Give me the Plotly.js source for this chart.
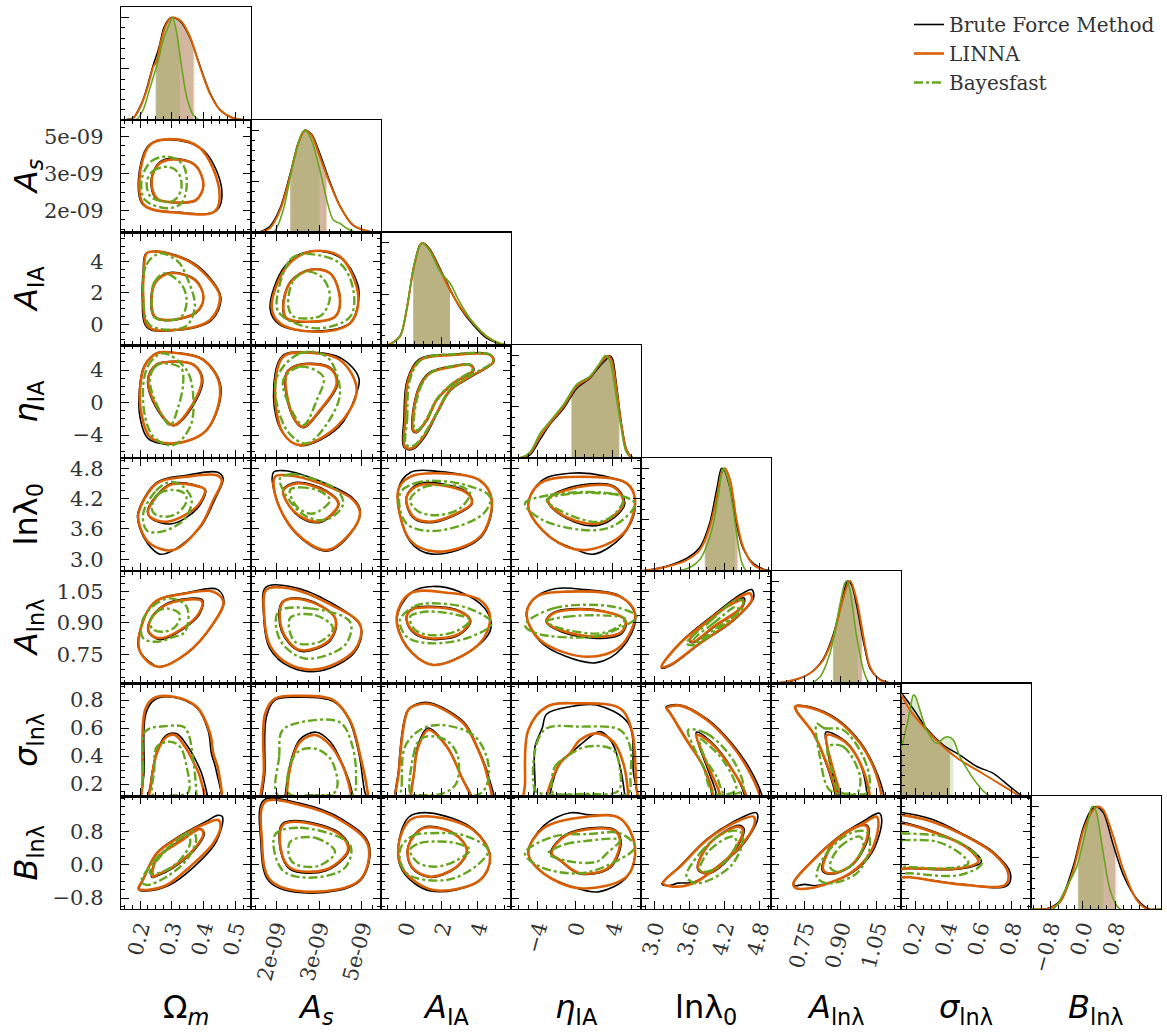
<!DOCTYPE html>
<html><head><meta charset="utf-8">
<script src="https://cdn.plot.ly/plotly-3.0.1.min.js"></script>
<style>html,body{margin:0;padding:0;background:#fff;}#chart{width:1167px;height:1032px;}</style>
</head><body><div id="chart"></div>
<script>
// ---------------- parameters / axes ----------------
const PARAM_TITLES = ['Ω<sub><i>m</i></sub>','<i>A</i><sub><i>s</i></sub>','<i>A</i><sub>IA</sub>','<i>η</i><sub>IA</sub>','lnλ<sub>0</sub>','<i>A</i><sub>lnλ</sub>','<i>σ</i><sub>lnλ</sub>','<i>B</i><sub>lnλ</sub>'];
// A_s values are in units of 1e-9
const RANGES = [[0.14,0.55],[1.108,5.677],[-1.35,5.85],[-6.83,7.03],[2.77,5.0],[0.61,1.15],[0.113,0.918],[-1.06,1.65]];
// horizontal ranges of the columns (the last column only holds the B marginal and has its own extent)
const X_RANGES = [[0.14,0.55],[1.108,5.677],[-1.35,5.85],[-6.83,7.03],[2.77,5.0],[0.61,1.15],[0.113,0.918],[-1.27,1.93]];
const TICK_VALS = [[0.2,0.3,0.4,0.5],[2,3.5,5],[0,2,4],[-4,0,4],[3.0,3.6,4.2,4.8],[0.75,0.90,1.05],[0.2,0.4,0.6,0.8],[-0.8,0.0,0.8]];
const TICK_TEXT = [['0.2','0.3','0.4','0.5'],['2e-09','3e-09','5e-09'],['0','2','4'],['\u22124','0','4'],['3.0','3.6','4.2','4.8'],['0.75','0.90','1.05'],['0.2','0.4','0.6','0.8'],['\u22120.8','0.0','0.8']];
const MINOR_STEP = [0.025,0.375,0.5,1,0.15,0.0375,0.05,0.2];
const METHODS = ['Brute Force Method','LINNA','Bayesfast'];
const KEYS = ['bf','li','bay'];

// ---------------- 2D contours (outer = 95%, inner = 68%) ----------------
const P10 = {
 bf:{outer:[[0.195,3.25],[0.228,4.66],[0.295,4.88],[0.40,4.45],[0.458,2.84],[0.44,1.99],[0.326,1.93],[0.21,2.23]],
     inner:[[0.235,3.25],[0.26,3.95],[0.305,4.12],[0.375,3.85],[0.40,3.0],[0.377,2.42],[0.326,2.32],[0.25,2.5]]},
 li:{outer:[[0.198,3.25],[0.231,4.66],[0.295,4.90],[0.389,4.54],[0.45,2.84],[0.436,1.98],[0.326,1.91],[0.213,2.23]],
     inner:[[0.237,3.25],[0.26,3.9],[0.305,4.08],[0.373,3.85],[0.40,3.04],[0.377,2.44],[0.326,2.33],[0.253,2.50]]},
 bay:{outer:[[0.205,3.25],[0.235,4.0],[0.289,4.19],[0.336,3.85],[0.347,2.97],[0.33,2.3],[0.29,2.10],[0.216,2.43]],
     inner:[[0.221,3.12],[0.24,3.6],[0.289,3.78],[0.32,3.55],[0.331,2.97],[0.315,2.5],[0.295,2.36],[0.235,2.55]]}
};
const P20 = {
 bf:{outer:[[0.207,1.76],[0.21,3.3],[0.218,4.5],[0.253,4.66],[0.35,4.12],[0.415,3.1],[0.455,1.7],[0.425,0.25],[0.305,-0.4],[0.222,-0.2]],
     inner:[[0.235,1.76],[0.25,2.75],[0.295,3.3],[0.375,2.85],[0.40,1.7],[0.38,0.78],[0.295,0.25],[0.245,0.46]]},
 li:{outer:[[0.210,1.76],[0.212,3.3],[0.221,4.53],[0.253,4.64],[0.347,4.10],[0.41,3.1],[0.452,1.76],[0.421,0.27],[0.305,-0.37],[0.226,-0.16]],
     inner:[[0.237,1.76],[0.25,2.7],[0.295,3.26],[0.373,2.83],[0.40,1.76],[0.379,0.80],[0.295,0.27],[0.247,0.48]]},
 bay:{outer:[[0.21,1.76],[0.22,3.8],[0.263,4.53],[0.32,4.0],[0.342,3.26],[0.373,1.12],[0.342,-0.16],[0.231,-0.05]],
     inner:[[0.237,1.76],[0.245,2.7],[0.279,3.26],[0.332,2.51],[0.347,1.55],[0.335,0.6],[0.305,0.27],[0.245,0.45]]}
};
const P30 = {
 bf:{outer:[[0.198,1.54],[0.213,4.5],[0.253,6.1],[0.305,6.15],[0.40,5.3],[0.455,1.9],[0.41,-3.4],[0.305,-5.1],[0.225,-4.4],[0.2,-1.8]],
     inner:[[0.224,2.77],[0.25,4.65],[0.295,5.05],[0.37,4.65],[0.398,2.7],[0.35,-1.4],[0.305,-2.85],[0.25,-0.6]]},
 li:{outer:[[0.20,1.54],[0.215,4.5],[0.253,6.06],[0.305,6.13],[0.40,5.23],[0.452,1.95],[0.41,-3.38],[0.305,-5.02],[0.231,-4.21],[0.205,-1.5]],
     inner:[[0.226,2.77],[0.25,4.6],[0.295,5.02],[0.37,4.6],[0.395,2.77],[0.347,-1.33],[0.305,-2.77],[0.253,-0.52]]},
 bay:{outer:[[0.21,-0.10],[0.225,4.5],[0.273,6.06],[0.347,4.0],[0.368,0.72],[0.358,-2.98],[0.305,-5.23],[0.242,-4.21]],
     inner:[[0.231,2.77],[0.245,4.3],[0.273,4.83],[0.33,4.2],[0.336,2.37],[0.32,-0.6],[0.295,-2.77],[0.25,0.0]]}
};
const P40 = {
 bf:{outer:[[0.193,3.9],[0.253,4.52],[0.347,4.66],[0.445,4.72],[0.462,4.6],[0.435,4.17],[0.389,3.62],[0.3,3.16],[0.262,3.1],[0.225,3.3],[0.2,3.6]],
     inner:[[0.224,3.97],[0.295,4.49],[0.389,4.44],[0.407,4.36],[0.38,4.0],[0.3,3.70],[0.232,3.82]]},
 li:{outer:[[0.195,3.9],[0.253,4.5],[0.347,4.63],[0.442,4.66],[0.458,4.56],[0.431,4.17],[0.389,3.64],[0.305,3.18],[0.231,3.31],[0.2,3.64]],
     inner:[[0.226,3.97],[0.295,4.47],[0.389,4.43],[0.405,4.37],[0.379,4.04],[0.284,3.74],[0.231,3.84]]},
 bay:{outer:[[0.21,3.9],[0.25,4.35],[0.295,4.53],[0.337,4.43],[0.363,4.17],[0.337,3.77],[0.263,3.54],[0.221,3.57]],
     inner:[[0.237,4.04],[0.26,4.3],[0.305,4.37],[0.34,4.3],[0.347,4.15],[0.32,3.92],[0.284,3.84],[0.245,3.9]]}
};
const P50 = {
 bf:{outer:[[0.193,0.80],[0.242,0.995],[0.347,1.045],[0.445,1.06],[0.465,1.0],[0.431,0.895],[0.347,0.752],[0.258,0.69],[0.225,0.72],[0.205,0.75]],
     inner:[[0.224,0.88],[0.25,0.955],[0.305,1.005],[0.397,1.01],[0.387,0.94],[0.33,0.865],[0.263,0.82],[0.229,0.85]]},
 li:{outer:[[0.195,0.803],[0.242,0.994],[0.347,1.042],[0.431,1.05],[0.463,1.002],[0.431,0.898],[0.347,0.755],[0.258,0.69],[0.21,0.738]],
     inner:[[0.226,0.88],[0.25,0.95],[0.305,1.0],[0.395,1.005],[0.385,0.945],[0.33,0.87],[0.263,0.827],[0.231,0.85]]},
 bay:{outer:[[0.205,0.9],[0.24,0.98],[0.295,1.018],[0.347,0.978],[0.342,0.858],[0.3,0.83],[0.253,0.81],[0.21,0.827]],
     inner:[[0.231,0.906],[0.25,0.95],[0.284,0.97],[0.326,0.94],[0.31,0.88],[0.274,0.858],[0.24,0.87]]}
};
const P60 = {
 bf:{outer:[[0.212,0.0],[0.213,0.3],[0.218,0.70],[0.245,0.80],[0.305,0.82],[0.379,0.745],[0.415,0.58],[0.425,0.42],[0.44,0.3],[0.452,0.0],[0.33,-0.08]],
     inner:[[0.227,0.0],[0.233,0.2],[0.253,0.43],[0.284,0.55],[0.315,0.56],[0.35,0.47],[0.38,0.35],[0.398,0.25],[0.41,0.0],[0.32,-0.06]]},
 li:{outer:[[0.207,0.0],[0.208,0.2],[0.216,0.73],[0.242,0.812],[0.305,0.824],[0.379,0.752],[0.421,0.562],[0.431,0.42],[0.447,0.30],[0.449,0.0],[0.33,-0.08]],
     inner:[[0.229,0.0],[0.235,0.2],[0.253,0.42],[0.284,0.538],[0.31,0.55],[0.342,0.466],[0.37,0.35],[0.389,0.252],[0.402,0.0],[0.32,-0.06]]},
 bay:{outer:[[0.21,0.0],[0.21,0.3],[0.212,0.56],[0.231,0.598],[0.263,0.61],[0.336,0.61],[0.352,0.562],[0.368,0.372],[0.378,0.13],[0.38,0.0],[0.3,-0.06]],
     inner:[[0.242,0.12],[0.245,0.3],[0.253,0.466],[0.295,0.502],[0.326,0.466],[0.347,0.324],[0.352,0.14],[0.3,0.118]]}
};
const P70 = {
 bf:{outer:[[0.197,-0.6],[0.21,-0.35],[0.253,0.29],[0.326,0.7],[0.41,1.05],[0.445,1.19],[0.46,1.15],[0.44,0.55],[0.37,-0.05],[0.29,-0.5],[0.22,-0.63]],
     inner:[[0.237,-0.3],[0.253,0.17],[0.326,0.58],[0.39,0.87],[0.403,0.75],[0.37,0.34],[0.305,-0.07],[0.253,-0.27]]},
 li:{outer:[[0.195,-0.58],[0.21,-0.35],[0.253,0.277],[0.326,0.676],[0.41,1.0],[0.447,1.078],[0.454,0.917],[0.431,0.518],[0.358,-0.045],[0.284,-0.485],[0.221,-0.605]],
     inner:[[0.24,-0.285],[0.253,0.157],[0.326,0.556],[0.389,0.854],[0.4,0.76],[0.368,0.357],[0.305,-0.045],[0.253,-0.245]]},
 bay:{outer:[[0.205,-0.405],[0.242,0.075],[0.305,0.518],[0.347,0.758],[0.368,0.797],[0.377,0.6],[0.347,0.116],[0.284,-0.285],[0.221,-0.485]],
     inner:[[0.231,-0.2],[0.273,0.277],[0.326,0.637],[0.352,0.717],[0.358,0.518],[0.326,0.116],[0.273,-0.165]]}
};
const P21 = {
 bf:{outer:[[1.78,1.0],[2.3,3.7],[3.18,4.66],[4.3,4.2],[4.85,2.6],[4.9,1.7],[4.6,0.1],[3.3,-0.45],[2.1,0.0]],
     inner:[[2.22,1.1],[2.5,2.75],[3.18,3.5],[3.9,3.25],[4.25,1.5],[4.05,0.45],[3.07,0.13],[2.35,0.35]]},
 li:{outer:[[1.836,1.12],[2.363,3.68],[3.182,4.64],[4.236,4.32],[4.88,1.76],[4.59,0.06],[3.298,-0.48],[2.127,0.06]],
     inner:[[2.243,1.12],[2.5,2.7],[3.182,3.47],[3.885,3.26],[4.236,1.55],[4.06,0.48],[3.066,0.16],[2.363,0.38]]},
 bay:{outer:[[2.01,1.12],[2.479,4.11],[2.946,4.49],[4.236,3.89],[4.704,2.19],[4.59,0.48],[3.417,-0.26],[2.243,0.48]],
     inner:[[2.42,1.12],[2.6,2.8],[3.066,3.36],[3.6,3.0],[3.885,1.76],[3.6,0.6],[3.182,0.38],[2.6,0.5]]}
};
const P31 = {
 bf:{outer:[[1.9,0.8],[2.2,5.7],[3.07,6.2],[4.3,5.4],[4.9,3.0],[4.8,1.0],[4.2,-3.0],[2.85,-5.3],[2.2,-3.6]],
     inner:[[2.34,3.6],[2.83,4.7],[3.9,4.3],[4.15,2.3],[3.55,-1.0],[2.95,-3.1],[2.58,-1.8]]},
 li:{outer:[[1.952,1.54],[2.243,5.64],[3.066,6.13],[4.236,5.23],[4.823,1.54],[4.12,-2.98],[2.83,-5.23],[2.243,-3.79]],
     inner:[[2.363,3.6],[2.83,4.62],[3.885,4.21],[4.12,2.37],[3.533,-0.92],[2.946,-2.98],[2.595,-1.75]]},
 bay:{outer:[[1.99,2.77],[2.83,6.06],[3.77,5.64],[4.236,1.54],[4.0,-1.33],[3.066,-5.02],[2.363,-3.38]],
     inner:[[2.243,2.77],[2.83,4.41],[3.65,3.18],[3.42,0.31],[2.946,-2.77],[2.479,-0.52]]}
};
const P41 = {
 bf:{outer:[[1.9,4.72],[2.3,4.75],[3.5,4.55],[4.7,4.2],[4.95,3.95],[4.6,3.5],[3.77,3.16],[2.7,3.5],[2.0,4.2]],
     inner:[[2.23,4.37],[2.7,4.52],[3.77,4.35],[4.2,4.1],[3.8,3.8],[3.4,3.72],[2.83,3.83],[2.4,4.1]]},
 li:{outer:[[1.952,4.63],[2.363,4.66],[3.533,4.5],[4.704,4.17],[4.939,3.9],[4.59,3.51],[3.77,3.18],[2.714,3.51],[2.01,4.17]],
     inner:[[2.243,4.36],[2.714,4.5],[3.77,4.33],[4.177,4.1],[3.8,3.82],[3.417,3.74],[2.83,3.85],[2.4,4.1]]},
 bay:{outer:[[2.127,4.6],[2.5,4.68],[2.83,4.66],[4.12,4.37],[4.35,4.1],[4.0,3.85],[3.533,3.77],[2.9,3.9],[2.3,4.3]],
     inner:[[2.479,4.37],[2.83,4.42],[3.5,4.35],[3.885,4.17],[3.5,3.95],[3.182,3.9],[2.7,4.05]]}
};
const P51 = {
 bf:{outer:[[1.62,1.07],[2.48,1.075],[3.88,1.0],[4.97,0.88],[4.75,0.76],[3.53,0.67],[2.48,0.69],[1.76,0.78],[1.55,0.94]],
     inner:[[2.2,1.0],[3.0,1.015],[4.08,0.92],[3.9,0.815],[2.83,0.765],[2.18,0.86]]},
 li:{outer:[[1.65,1.06],[2.48,1.065],[3.88,0.99],[4.95,0.89],[4.75,0.77],[3.53,0.68],[2.48,0.70],[1.78,0.79],[1.57,0.94]],
     inner:[[2.23,1.0],[3.0,1.01],[4.06,0.924],[3.88,0.82],[2.83,0.77],[2.2,0.866]]},
 bay:{outer:[[2.06,0.953],[3.18,0.97],[4.59,0.905],[4.41,0.794],[3.0,0.73],[2.13,0.818]],
     inner:[[2.48,0.924],[3.36,0.938],[3.99,0.876],[3.53,0.81],[2.65,0.81]]}
};
const P61 = {
 bf:{outer:[[1.6,0.0],[1.6,0.3],[1.65,0.68],[1.95,0.80],[2.83,0.82],[4.0,0.79],[4.55,0.66],[4.9,0.42],[5.1,0.15],[5.3,0.0],[3.5,-0.08]],
     inner:[[2.3,0.0],[2.33,0.15],[2.53,0.38],[2.83,0.52],[3.4,0.57],[3.9,0.5],[4.35,0.33],[4.65,0.15],[4.72,0.0],[3.5,-0.06]]},
 li:{outer:[[1.55,0.0],[1.56,0.3],[1.6,0.7],[1.95,0.81],[2.83,0.83],[4.0,0.8],[4.6,0.65],[4.95,0.4],[5.2,0.15],[5.25,0.0],[3.5,-0.08]],
     inner:[[2.35,0.0],[2.37,0.15],[2.55,0.37],[2.83,0.5],[3.36,0.55],[3.88,0.48],[4.31,0.34],[4.6,0.15],[4.66,0.0],[3.5,-0.06]]},
 bay:{outer:[[2.05,0.12],[2.1,0.4],[2.2,0.58],[2.83,0.64],[4.24,0.64],[4.66,0.48],[4.8,0.25],[4.7,0.13],[3.5,0.12]],
     inner:[[2.45,0.13],[2.5,0.35],[2.83,0.44],[3.4,0.45],[3.9,0.38],[4.15,0.2],[4.0,0.13],[3.2,0.12]]}
};
const P71 = {
 bf:{outer:[[1.55,1.55],[2.83,1.48],[4.3,1.1],[5.25,0.5],[4.95,-0.38],[3.18,-0.68],[1.75,-0.4],[1.45,0.6]],
     inner:[[2.2,0.98],[2.83,1.06],[4.27,0.74],[4.55,0.35],[3.72,-0.15],[2.47,-0.1],[2.14,0.36]]},
 li:{outer:[[1.6,1.51],[2.83,1.44],[4.24,1.08],[5.22,0.48],[4.94,-0.36],[3.18,-0.65],[1.78,-0.36],[1.49,0.6]],
     inner:[[2.23,0.96],[2.83,1.03],[4.24,0.72],[4.52,0.36],[3.71,-0.12],[2.48,-0.07],[2.16,0.36]]},
 bay:{outer:[[1.95,0.72],[2.83,0.89],[4.59,0.48],[4.41,-0.07],[3.18,-0.31],[2.2,-0.12]],
     inner:[[2.48,0.55],[3.36,0.65],[4.06,0.31],[3.46,-0.03],[2.55,0.07]]}
};
const P32 = {
 bf:{outer:[[-0.08,-5.5],[-0.08,-2.0],[0.1,2.77],[0.75,5.3],[2.65,5.95],[4.69,5.9],[4.9,5.0],[3.6,3.1],[2.5,1.5],[1.75,-1.4],[1.05,-4.3],[0.4,-5.75]],
     inner:[[0.4,-3.45],[0.68,1.54],[1.3,3.65],[2.65,4.5],[3.6,4.68],[3.8,4.0],[2.65,2.3],[1.73,0.25],[1.2,-2.2],[0.63,-3.7]]},
 li:{outer:[[-0.02,-5.44],[0.0,-2.0],[0.16,2.77],[0.81,5.23],[2.65,5.85],[4.69,5.85],[4.87,5.02],[3.58,3.18],[2.47,1.54],[1.73,-1.33],[1.0,-4.21],[0.4,-5.6]],
     inner:[[0.44,-3.38],[0.72,1.54],[1.36,3.6],[2.65,4.41],[3.58,4.62],[3.76,4.0],[2.65,2.37],[1.73,0.31],[1.18,-2.15],[0.63,-3.59]]},
 bay:{outer:[[0.05,-5.2],[0.1,-2.0],[0.25,2.77],[0.9,5.3],[2.65,5.95],[4.69,5.9],[4.85,5.1],[3.58,3.3],[2.47,1.6],[1.73,-1.3],[1.0,-4.0],[0.45,-5.3]],
     inner:[[0.5,-3.2],[0.78,1.54],[1.4,3.65],[2.65,4.5],[3.58,4.65],[3.72,4.1],[2.65,2.45],[1.73,0.4],[1.18,-2.0],[0.68,-3.4]]}
};
const P42 = {
 bf:{outer:[[-0.4,4.37],[0.3,4.72],[1.73,4.74],[4.13,4.55],[4.8,4.15],[4.15,3.42],[1.5,3.1],[0.26,3.35]],
     inner:[[0.05,4.23],[0.81,4.5],[3.4,4.33],[3.7,4.1],[2.5,3.83],[1.36,3.72],[0.42,3.82]]},
 li:{outer:[[-0.39,4.37],[0.26,4.63],[1.73,4.7],[4.13,4.56],[4.78,4.17],[4.13,3.44],[1.73,3.15],[0.26,3.38]],
     inner:[[0.07,4.23],[0.81,4.47],[3.4,4.31],[3.67,4.11],[2.5,3.85],[1.36,3.74],[0.44,3.84]]},
 bay:{outer:[[-0.3,4.3],[0.5,4.5],[1.73,4.55],[3.5,4.45],[4.69,4.23],[4.32,3.9],[1.73,3.56],[0.07,3.7]],
     inner:[[0.26,4.17],[1.0,4.42],[1.92,4.47],[3.2,4.42],[3.58,4.3],[3.0,4.0],[1.73,3.87],[0.7,3.95]]}
};
const P52 = {
 bf:{outer:[[-0.45,0.93],[0.4,1.05],[1.5,1.075],[3.0,1.05],[4.4,0.97],[4.75,0.88],[4.13,0.80],[1.55,0.70],[0.07,0.79]],
     inner:[[0.05,0.93],[0.4,0.97],[1.36,0.98],[3.02,0.958],[3.62,0.91],[3.02,0.845],[1.36,0.822],[0.33,0.862]]},
 li:{outer:[[-0.48,0.93],[0.26,1.042],[2.29,1.045],[4.13,1.01],[4.69,0.93],[4.13,0.803],[1.55,0.699],[0.07,0.786]],
     inner:[[0.07,0.93],[0.4,0.965],[1.36,0.975],[3.02,0.954],[3.58,0.914],[3.02,0.85],[1.36,0.827],[0.35,0.866]]},
 bay:{outer:[[-0.3,0.914],[0.5,0.98],[1.36,0.994],[3.5,0.97],[4.78,0.898],[3.5,0.83],[1.36,0.803],[0.07,0.834]],
     inner:[[0.26,0.93],[0.8,0.95],[1.36,0.955],[2.8,0.94],[3.58,0.914],[2.8,0.86],[1.36,0.842],[0.5,0.87]]}
};
const P62 = {
 bf:{outer:[[-0.45,0.0],[-0.38,0.3],[0.1,0.72],[0.6,0.77],[1.36,0.78],[3.25,0.64],[4.0,0.46],[4.6,0.26],[4.85,0.0],[2.0,-0.08]],
     inner:[[0.44,0.0],[0.5,0.3],[0.7,0.48],[1.25,0.6],[2.3,0.47],[3.05,0.27],[3.85,0.0],[2.0,-0.06]]},
 li:{outer:[[-0.4,0.0],[-0.35,0.3],[0.16,0.729],[0.63,0.765],[1.36,0.772],[3.21,0.634],[3.95,0.467],[4.5,0.276],[4.69,0.0],[2.0,-0.08]],
     inner:[[0.44,0.0],[0.5,0.3],[0.72,0.467],[1.27,0.586],[2.29,0.467],[3.02,0.276],[3.76,0.0],[2.0,-0.06]]},
 bay:{outer:[[-0.2,0.12],[-0.2,0.2],[-0.02,0.467],[0.81,0.586],[1.92,0.622],[3.76,0.55],[4.5,0.395],[4.59,0.228],[4.13,0.13],[2.0,0.115],[0.5,0.12]],
     inner:[[0.3,0.13],[0.44,0.4],[0.7,0.5],[1.2,0.54],[2.29,0.51],[2.9,0.4],[2.8,0.2],[2.0,0.13],[0.8,0.12]]}
};
const P72 = {
 bf:{outer:[[-0.4,0.44],[0.2,1.15],[1.3,1.25],[3.76,0.86],[4.7,0.2],[4.15,-0.37],[1.4,-0.63],[-0.15,-0.15]],
     inner:[[0.14,0.44],[0.99,0.9],[2.65,0.77],[3.42,0.35],[2.84,-0.06],[1.36,-0.3],[0.33,-0.06]]},
 li:{outer:[[-0.39,0.436],[0.26,1.078],[1.55,1.157],[3.76,0.837],[4.69,0.196],[4.13,-0.364],[1.55,-0.605],[-0.11,-0.124]],
     inner:[[0.16,0.436],[0.99,0.878],[2.65,0.758],[3.4,0.357],[2.84,-0.044],[1.36,-0.284],[0.35,-0.044]]},
 bay:{outer:[[-0.3,0.357],[0.4,0.7],[1.36,0.76],[3.3,0.7],[4.59,0.357],[4.0,0.0],[2.29,-0.364],[0.07,-0.204]],
     inner:[[0.26,0.357],[0.8,0.52],[1.55,0.56],[2.8,0.52],[3.58,0.357],[2.8,0.1],[1.73,-0.044],[0.7,0.05]]}
};
const P43 = {
 bf:{outer:[[-5.0,4.05],[-3.6,4.55],[-0.5,4.7],[3.0,4.65],[5.8,4.45],[6.4,4.0],[5.0,3.45],[2.0,3.1],[0.0,3.2],[-2.8,3.45]],
     inner:[[-2.9,4.17],[-0.9,4.4],[4.1,4.45],[5.3,4.1],[3.6,3.75],[1.6,3.66],[-1.6,3.88]]},
 li:{outer:[[-4.98,4.04],[-3.74,4.5],[0.88,4.63],[5.51,4.5],[6.39,4.17],[5.15,3.51],[0.88,3.18],[-2.67,3.44]],
     inner:[[-2.85,4.17],[-0.9,4.37],[4.08,4.43],[5.15,4.1],[3.5,3.78],[1.6,3.7],[-1.61,3.9]]},
 bay:{outer:[[-5.34,4.1],[-2.67,4.27],[3.72,4.3],[6.39,4.1],[4.5,3.7],[1.95,3.57],[-3.39,3.77]],
     inner:[[-3.03,4.17],[-0.19,4.3],[3.0,4.3],[5.15,4.23],[4.5,3.95],[2.66,3.74],[-0.9,3.9]]}
};
const P53 = {
 bf:{outer:[[-5.2,0.95],[-4.0,1.03],[-2.0,1.065],[1.0,1.06],[4.8,1.03],[6.45,0.93],[5.0,0.78],[2.3,0.71],[-1.0,0.74],[-3.8,0.815]],
     inner:[[-3.1,0.906],[-2.3,0.95],[1.95,0.965],[5.4,0.91],[5.0,0.85],[2.3,0.826],[-1.6,0.86]]},
 li:{outer:[[-5.16,0.946],[-4.09,1.026],[-0.89,1.05],[4.79,1.026],[6.39,0.946],[4.79,0.786],[1.24,0.738],[-3.74,0.818]],
     inner:[[-3.03,0.906],[-2.32,0.946],[1.95,0.962],[5.33,0.914],[4.97,0.858],[2.3,0.834],[-1.61,0.866]]},
 bay:{outer:[[-5.34,0.89],[-2.32,0.97],[4.08,0.978],[6.57,0.93],[4.5,0.87],[1.95,0.834],[-4.09,0.85]],
     inner:[[-3.03,0.906],[-0.9,0.93],[3.5,0.935],[5.33,0.92],[4.5,0.88],[2.66,0.85],[-1.61,0.875]]}
};
const P63 = {
 bf:{outer:[[-4.3,0.0],[-4.27,0.2],[-4.27,0.467],[-3.5,0.6],[-3.02,0.7],[-0.54,0.752],[2.3,0.764],[5.68,0.633],[6.2,0.3],[6.39,0.0],[0.5,-0.08]],
     inner:[[-2.8,0.0],[-2.7,0.12],[-1.5,0.36],[-0.3,0.43],[0.9,0.5],[2.66,0.574],[3.9,0.5],[4.7,0.35],[5.3,0.12],[5.4,0.0],[1.0,-0.06]]},
 li:{outer:[[-5.4,0.0],[-5.34,0.2],[-4.98,0.586],[-3.02,0.752],[0.53,0.776],[4.79,0.741],[6.04,0.586],[6.5,0.2],[6.57,0.0],[0.5,-0.08]],
     inner:[[-3.1,0.0],[-3.02,0.114],[-1.6,0.348],[-0.54,0.419],[0.53,0.514],[2.3,0.562],[4.08,0.502],[5.15,0.348],[5.68,0.114],[5.7,0.0],[1.0,-0.06]]},
 bay:{outer:[[-4.27,0.157],[-4.09,0.49],[-3.02,0.598],[0.53,0.61],[4.79,0.586],[5.86,0.467],[5.9,0.25],[5.68,0.135],[0.5,0.125],[-3.5,0.13]],
     inner:[[-2.5,0.2],[-2.14,0.324],[-0.9,0.395],[1.24,0.467],[4.08,0.443],[4.79,0.3],[4.6,0.15],[1.0,0.13],[-2.4,0.14]]}
};
const P73 = {
 bf:{outer:[[-5.0,0.28],[-3.3,0.95],[-0.5,1.25],[1.5,1.2],[4.8,1.12],[6.4,0.4],[5.5,-0.3],[2.5,-0.65],[0.0,-0.55],[-3.4,-0.2]],
     inner:[[-2.6,0.28],[-0.9,0.74],[4.1,0.86],[4.9,0.58],[3.8,-0.06],[0.53,-0.22],[-1.6,0.1]]},
 li:{outer:[[-4.98,0.277],[-3.39,0.878],[1.24,1.157],[4.79,1.119],[6.39,0.436],[5.5,-0.285],[0.53,-0.564],[-3.39,-0.203]],
     inner:[[-2.49,0.277],[-0.9,0.717],[4.08,0.837],[4.79,0.597],[3.72,-0.044],[0.53,-0.204],[-1.6,0.116]]},
 bay:{outer:[[-5.34,0.277],[-2.32,0.677],[1.5,0.74],[4.79,0.758],[6.39,0.436],[4.5,0.1],[0.53,-0.204],[-3.74,-0.044]],
     inner:[[-2.85,0.277],[-1.0,0.5],[0.53,0.557],[4.79,0.597],[3.5,0.3],[2.3,0.076],[-1.0,0.1]]}
};
const P54 = {
 bf:{outer:[[3.12,0.685],[3.44,0.805],[4.0,0.935],[4.47,1.035],[4.67,1.06],[4.7,1.02],[4.35,0.91],[3.78,0.8],[3.27,0.695]],
     inner:[[3.6,0.815],[3.9,0.91],[4.35,1.0],[4.54,1.02],[4.52,0.98],[4.01,0.878],[3.66,0.805]]},
 li:{outer:[[3.125,0.69],[3.44,0.803],[4.01,0.93],[4.47,1.026],[4.64,1.042],[4.67,1.01],[4.35,0.914],[3.78,0.803],[3.27,0.699]],
     inner:[[3.61,0.818],[3.9,0.906],[4.35,0.994],[4.52,1.01],[4.5,0.978],[4.01,0.882],[3.67,0.81]]},
 bay:{outer:[[3.55,0.803],[3.95,0.906],[4.35,1.002],[4.5,1.01],[4.52,0.978],[4.07,0.866],[3.67,0.794]],
     inner:[[3.67,0.818],[4.01,0.898],[4.41,0.978],[4.44,0.954],[4.01,0.866],[3.73,0.81]]}
};
const P64 = {
 bf:{outer:[[3.2,0.75],[3.44,0.765],[3.92,0.66],[4.33,0.49],[4.62,0.32],[4.85,0.114],[4.9,0.0],[3.98,0.0],[3.99,0.114],[3.83,0.33],[3.55,0.52],[3.27,0.71]],
     inner:[[3.72,0.57],[3.95,0.51],[4.3,0.33],[4.55,0.114],[4.57,0.0],[4.06,0.0],[4.07,0.114],[3.92,0.3],[3.76,0.48]]},
 li:{outer:[[3.21,0.741],[3.44,0.76],[3.9,0.657],[4.3,0.491],[4.58,0.324],[4.81,0.114],[4.85,0.0],[4.0,0.0],[4.01,0.114],[3.84,0.324],[3.55,0.514],[3.27,0.705]],
     inner:[[3.725,0.55],[3.95,0.5],[4.3,0.324],[4.58,0.114],[4.6,0.0],[4.12,0.0],[4.13,0.114],[3.95,0.3],[3.78,0.467]]},
 bay:{outer:[[3.58,0.586],[3.9,0.56],[4.35,0.37],[4.52,0.16],[4.3,0.125],[4.0,0.14],[3.84,0.324],[3.67,0.467]],
     inner:[[3.78,0.52],[3.95,0.47],[4.21,0.35],[4.4,0.16],[4.2,0.13],[4.07,0.25],[3.85,0.4]]}
};
const P74 = {
 bf:{outer:[[3.13,-0.46],[3.44,-0.03],[3.9,0.62],[4.35,1.03],[4.75,1.25],[4.77,1.1],[4.5,0.45],[4.01,-0.13],[3.67,-0.42],[3.4,-0.44],[3.25,-0.5]],
     inner:[[3.74,-0.1],[3.95,0.53],[4.45,0.95],[4.54,0.86],[4.49,0.6],[4.2,0.03],[3.9,-0.22]]},
 li:{outer:[[3.15,-0.444],[3.44,-0.044],[3.9,0.597],[4.35,0.998],[4.7,1.157],[4.72,1.0],[4.47,0.436],[4.01,-0.124],[3.67,-0.444],[3.32,-0.525]],
     inner:[[3.75,-0.084],[3.95,0.517],[4.44,0.917],[4.52,0.837],[4.47,0.597],[4.18,0.036],[3.9,-0.204]]},
 bay:{outer:[[3.55,-0.284],[3.78,0.277],[4.18,0.758],[4.47,0.797],[4.52,0.597],[4.3,-0.044],[3.73,-0.444]],
     inner:[[3.78,-0.124],[3.95,0.357],[4.35,0.677],[4.41,0.517],[4.18,0.036],[3.9,-0.164]]}
};
const P65 = {
 bf:{outer:[[0.712,0.756],[0.775,0.75],[0.888,0.66],[0.985,0.49],[1.04,0.32],[1.08,0.114],[1.085,0.0],[0.875,0.0],[0.877,0.114],[0.838,0.35],[0.784,0.565],[0.718,0.72]],
     inner:[[0.838,0.57],[0.9,0.53],[0.94,0.47],[0.99,0.3],[1.01,0.114],[1.013,0.0],[0.887,0.0],[0.889,0.114],[0.862,0.3],[0.842,0.47]]},
 li:{outer:[[0.71,0.752],[0.772,0.745],[0.883,0.657],[0.98,0.491],[1.035,0.324],[1.07,0.114],[1.075,0.0],[0.882,0.0],[0.883,0.114],[0.841,0.348],[0.786,0.562],[0.717,0.717]],
     inner:[[0.841,0.55],[0.9,0.52],[0.938,0.467],[0.993,0.3],[1.021,0.114],[1.025,0.0],[0.895,0.0],[0.897,0.114],[0.869,0.3],[0.845,0.46]]},
 bay:{outer:[[0.8,0.63],[0.83,0.6],[0.91,0.586],[0.993,0.395],[1.021,0.205],[1.007,0.135],[0.938,0.13],[0.855,0.155],[0.813,0.395]],
     inner:[[0.848,0.467],[0.91,0.467],[0.98,0.252],[0.966,0.133],[0.897,0.144],[0.862,0.3]]}
};
const P75 = {
 bf:{outer:[[0.703,-0.44],[0.786,0.13],[0.897,0.7],[0.994,1.05],[1.06,1.24],[1.07,1.05],[1.03,0.3],[0.945,-0.2],[0.8,-0.5],[0.75,-0.47],[0.71,-0.5]],
     inner:[[0.823,-0.14],[0.866,0.52],[0.966,0.93],[1.01,0.95],[1.015,0.68],[0.955,0.03],[0.869,-0.22]]},
 li:{outer:[[0.703,-0.444],[0.786,0.116],[0.897,0.677],[0.994,0.998],[1.049,1.157],[1.056,0.917],[1.021,0.277],[0.938,-0.204],[0.772,-0.564],[0.71,-0.55]],
     inner:[[0.827,-0.124],[0.869,0.517],[0.966,0.917],[1.007,0.93],[1.01,0.677],[0.952,0.036],[0.869,-0.204]]},
 bay:{outer:[[0.8,-0.284],[0.841,0.277],[0.938,0.758],[1.007,0.79],[1.021,0.436],[0.966,-0.204],[0.841,-0.444]],
     inner:[[0.855,-0.044],[0.897,0.436],[0.98,0.677],[0.993,0.436],[0.938,-0.044],[0.883,-0.164]]}
};
const P76 = {
 bf:{outer:[[0.0,1.3],[0.117,1.26],[0.3,1.1],[0.478,0.78],[0.69,0.29],[0.79,-0.2],[0.77,-0.5],[0.478,-0.46],[0.169,-0.3],[0.0,-0.26]],
     inner:[[0.0,1.05],[0.117,1.03],[0.28,0.85],[0.478,0.53],[0.575,0.28],[0.61,0.07],[0.478,-0.1],[0.169,-0.09],[0.0,-0.09]]},
 li:{outer:[[0.0,1.25],[0.117,1.2],[0.272,1.078],[0.478,0.758],[0.685,0.277],[0.777,-0.204],[0.757,-0.485],[0.478,-0.47],[0.169,-0.3],[0.0,-0.26]],
     inner:[[0.0,1.02],[0.117,1.0],[0.272,0.837],[0.478,0.517],[0.561,0.277],[0.592,0.076],[0.478,-0.084],[0.169,-0.08],[0.0,-0.08]]},
 bay:{outer:[[0.0,0.77],[0.117,0.758],[0.375,0.677],[0.52,0.436],[0.613,0.036],[0.478,-0.244],[0.169,-0.204],[0.0,-0.17]],
     inner:[[0.0,0.62],[0.117,0.597],[0.335,0.557],[0.478,0.277],[0.53,0.036],[0.396,-0.084],[0.127,-0.044],[0.0,-0.04]]}
};
const CONTOURS = {
 '1,0':P10,'2,0':P20,'3,0':P30,'4,0':P40,'5,0':P50,'6,0':P60,'7,0':P70,
 '2,1':P21,'3,1':P31,'4,1':P41,'5,1':P51,'6,1':P61,'7,1':P71,
 '3,2':P32,'4,2':P42,'5,2':P52,'6,2':P62,'7,2':P72,
 '4,3':P43,'5,3':P53,'6,3':P63,'7,3':P73,
 '5,4':P54,'6,4':P64,'7,4':P74,
 '6,5':P65,'7,5':P75,
 '7,6':P76
};

// ---------------- 1D marginals (peak normalised to 1) ----------------
const D0 = {
 bf:[[0.14,0],[0.16,0.004],[0.179,0.02],[0.195,0.1],[0.21,0.2],[0.225,0.35],[0.242,0.54],[0.255,0.66],[0.263,0.75],[0.275,0.9],[0.29,0.98],[0.3,1.0],[0.315,0.99],[0.331,0.95],[0.358,0.8],[0.389,0.53],[0.42,0.27],[0.452,0.1],[0.494,0.02],[0.53,0.0],[0.55,0]],
 li:[[0.14,0],[0.16,0.003],[0.179,0.017],[0.195,0.09],[0.21,0.195],[0.225,0.33],[0.242,0.52],[0.252,0.57],[0.263,0.73],[0.275,0.87],[0.284,0.943],[0.295,0.99],[0.305,1.0],[0.318,0.99],[0.331,0.96],[0.358,0.81],[0.389,0.52],[0.42,0.26],[0.452,0.1],[0.494,0.017],[0.53,0.0],[0.55,0]],
 bay:[[0.14,0],[0.18,0.0],[0.19,0.007],[0.21,0.1],[0.23,0.3],[0.242,0.42],[0.258,0.585],[0.273,0.78],[0.289,0.91],[0.303,1.0],[0.316,0.845],[0.331,0.52],[0.347,0.227],[0.368,0.05],[0.389,0.0],[0.55,0]]
};
const D1 = {
 bf:[[1.108,0],[1.31,0.0],[1.6,0.03],[1.77,0.06],[2.13,0.24],[2.48,0.57],[2.77,0.88],[3.0,1.0],[3.24,0.96],[3.53,0.77],[3.88,0.5],[4.24,0.26],[4.7,0.07],[5.29,0.01],[5.677,0]],
 li:[[1.108,0],[1.31,0.0],[1.6,0.02],[1.77,0.043],[2.13,0.22],[2.48,0.55],[2.77,0.87],[3.01,1.0],[3.24,0.95],[3.53,0.74],[3.88,0.48],[4.24,0.254],[4.7,0.075],[5.29,0.01],[5.677,0]],
 bay:[[1.108,0],[1.89,0.0],[2.24,0.22],[2.59,0.68],[2.89,0.97],[3.01,1.0],[3.24,0.90],[3.53,0.61],[3.77,0.32],[4.0,0.124],[4.24,0.09],[4.47,0.043],[4.82,0.0],[5.677,0]]
};
const D2 = {
 bf:[[-1.35,0],[-1.0,0.0],[-0.3,0.09],[0.07,0.35],[0.44,0.75],[0.81,0.985],[0.98,1.0],[1.36,0.94],[1.92,0.75],[2.47,0.55],[3.02,0.37],[3.76,0.2],[4.5,0.07],[5.24,0.015],[5.79,0.0]],
 li:[[-1.35,0],[-1.03,0.0],[-0.3,0.085],[0.07,0.345],[0.44,0.736],[0.81,0.98],[0.96,1.0],[1.36,0.93],[1.92,0.736],[2.47,0.54],[3.02,0.378],[3.76,0.216],[4.5,0.085],[5.24,0.02],[5.79,0.0]],
 bay:[[-1.35,0],[-0.95,0.0],[-0.3,0.09],[0.07,0.36],[0.44,0.75],[0.81,0.98],[0.96,1.0],[1.36,0.92],[1.92,0.72],[2.47,0.606],[3.02,0.42],[3.76,0.22],[4.5,0.09],[5.24,0.02],[5.79,0.0]]
};
const D3 = {
 bf:[[-6.83,0],[-5.7,0.0],[-4.8,0.03],[-3.74,0.18],[-2.67,0.33],[-1.25,0.48],[0.17,0.68],[1.59,0.78],[2.66,0.9],[3.5,0.98],[3.72,1.0],[4.0,0.97],[4.44,0.7],[4.97,0.32],[5.5,0.08],[6.21,0.0],[7.03,0]],
 li:[[-6.83,0],[-5.87,0.0],[-4.8,0.045],[-3.74,0.21],[-2.67,0.34],[-1.25,0.5],[0.17,0.70],[1.59,0.79],[2.66,0.92],[3.37,0.995],[3.5,1.0],[3.9,0.956],[4.44,0.66],[4.97,0.305],[5.5,0.078],[6.21,0.0],[7.03,0]],
 bay:[[-6.83,0],[-5.9,0.0],[-4.8,0.06],[-3.74,0.24],[-2.67,0.36],[-1.25,0.52],[0.17,0.72],[1.59,0.8],[2.66,0.93],[3.2,1.0],[3.7,0.95],[4.3,0.65],[4.9,0.3],[5.4,0.07],[6.0,0.0],[7.03,0]]
};
const D4 = {
 bf:[[2.77,0],[2.81,0.0],[3.21,0.045],[3.55,0.12],[3.78,0.23],[3.95,0.47],[4.07,0.8],[4.15,1.0],[4.2,0.98],[4.3,0.8],[4.41,0.45],[4.52,0.22],[4.7,0.07],[4.9,0.01],[5.0,0]],
 li:[[2.77,0],[2.81,0.0],[3.21,0.04],[3.55,0.105],[3.78,0.203],[3.95,0.43],[4.07,0.72],[4.15,0.95],[4.21,1.0],[4.3,0.886],[4.41,0.496],[4.52,0.235],[4.7,0.057],[4.93,0.0],[5.0,0]],
 bay:[[2.77,0],[3.4,0.0],[3.6,0.03],[3.78,0.11],[3.9,0.25],[4.01,0.46],[4.1,0.75],[4.18,1.0],[4.26,0.9],[4.35,0.6],[4.43,0.28],[4.5,0.08],[4.58,0.0],[5.0,0]]
};
const D5 = {
 bf:[[0.61,0],[0.62,0.0],[0.703,0.03],[0.772,0.1],[0.827,0.24],[0.869,0.48],[0.904,0.8],[0.928,1.0],[0.945,0.96],[0.966,0.76],[0.994,0.41],[1.021,0.15],[1.063,0.04],[1.118,0.0],[1.15,0]],
 li:[[0.61,0],[0.62,0.0],[0.703,0.034],[0.772,0.1],[0.827,0.23],[0.869,0.457],[0.904,0.78],[0.931,0.983],[0.94,1.0],[0.966,0.815],[0.994,0.457],[1.021,0.164],[1.063,0.034],[1.118,0.0],[1.15,0]],
 bay:[[0.61,0],[0.772,0.0],[0.814,0.066],[0.855,0.295],[0.897,0.78],[0.917,0.983],[0.925,1.0],[0.938,0.912],[0.966,0.457],[0.994,0.132],[1.021,0.0],[1.15,0]]
};
const D6 = {
 bf:[[0.113,1.0],[0.117,1.0],[0.19,0.85],[0.272,0.66],[0.375,0.5],[0.478,0.40],[0.582,0.29],[0.685,0.223],[0.788,0.093],[0.87,0.0],[0.918,0]],
 li:[[0.113,1.0],[0.117,0.987],[0.169,0.84],[0.272,0.646],[0.375,0.483],[0.478,0.353],[0.582,0.256],[0.685,0.158],[0.788,0.06],[0.85,0.0],[0.918,0]],
 bay:[[0.113,0.45],[0.156,0.74],[0.19,0.987],[0.2,0.98],[0.272,0.646],[0.334,0.516],[0.38,0.57],[0.406,0.58],[0.437,0.548],[0.478,0.385],[0.582,0.126],[0.664,0.0],[0.918,0]]
};
const D7 = {
 bf:[[-1.27,0],[-0.903,0.0],[-0.556,0.08],[-0.228,0.42],[0.019,0.8],[0.22,0.97],[0.338,1.0],[0.511,0.94],[0.758,0.62],[1.004,0.33],[1.331,0.1],[1.638,0.0],[1.93,0]],
 li:[[-1.27,0],[-0.88,0.0],[-0.556,0.065],[-0.228,0.38],[0.019,0.77],[0.267,0.966],[0.385,1.0],[0.511,0.966],[0.758,0.705],[1.004,0.38],[1.331,0.088],[1.579,0.0],[1.93,0]],
 bay:[[-1.27,0],[-0.72,0.0],[-0.391,0.218],[-0.147,0.41],[0.101,0.80],[0.22,0.99],[0.279,1.0],[0.35,0.93],[0.511,0.54],[0.676,0.185],[0.917,0.0],[1.93,0]]
};
const MARGINALS = [D0,D1,D2,D3,D4,D5,D6,D7];
// 68% credible intervals (shaded) per method
const INTERVALS = [
 {bf:[0.25,0.368],li:[0.252,0.372],bay:[0.248,0.326]},
 {bf:[2.48,3.75],li:[2.48,3.78],bay:[2.54,3.51]},
 {bf:[0.44,2.47],li:[0.44,2.47],bay:[0.42,2.47]},
 {bf:[-0.36,4.72],li:[-0.36,4.72],bay:[-0.45,4.65]},
 {bf:[3.86,4.42],li:[3.87,4.44],bay:[3.88,4.38]},
 {bf:[0.869,0.987],li:[0.869,0.99],bay:[0.866,0.97]},
 {bf:[0.113,0.416],li:[0.113,0.416],bay:[0.113,0.437]},
 {bf:[-0.105,0.799],li:[-0.105,0.834],bay:[-0.123,0.511]}
];

// ---------------- styling ----------------
const W = 1167, H = 1032;
const GX0 = 121, GW = 130, GY0 = 7.3, GH = 112.7;
const STYLE = {
 bf: {color:'#000000', width:1.6, dash:'solid', fill:'rgba(0,0,0,0.18)', dwidth:1.5},
 li: {color:'#d95f02', width:2.6, dash:'solid', fill:'rgba(217,95,2,0.24)', dwidth:2.0},
 bay:{color:'#66a61e', width:2.4, dash:'dashdot', fill:'rgba(102,166,30,0.22)', dwidth:1.6}
};
const TICKFONT = {family:'DejaVu Serif', size:21, color:'#333333'};

function xdom(c){return [(GX0+GW*c)/W, (GX0+GW*(c+1))/W];}
function ydom(r){return [1-(GY0+GH*(r+1))/H, 1-(GY0+GH*r)/H];}
function closed(pts){const x=pts.map(p=>p[0]), y=pts.map(p=>p[1]); x.push(pts[0][0]); y.push(pts[0][1]); return {x,y};}
function interp(curve, v){
  for(let i=0;i<curve.length-1;i++){
    const a=curve[i], b=curve[i+1];
    if(v>=a[0] && v<=b[0]){ const t=(b[0]===a[0])?0:(v-a[0])/(b[0]-a[0]); return a[1]+t*(b[1]-a[1]); }
  }
  return curve[curve.length-1][1];
}
function band(curve, lo, hi){
  const pts=[[lo,interp(curve,lo)]];
  curve.forEach(p=>{ if(p[0]>lo && p[0]<hi) pts.push(p); });
  pts.push([hi,interp(curve,hi)]);
  return pts;
}
function axisBase(){
  return {showline:true, linecolor:'#000', linewidth:1.3, ticks:'inside', ticklen:8, tickwidth:1, tickcolor:'#000',
          showgrid:false, zeroline:false, tickfont:TICKFONT, fixedrange:true, ticklabeloverflow:'allow'};
}
function minorFor(i){return {ticks:'inside', ticklen:4, tickwidth:1, tickcolor:'#000', tickmode:'linear', tick0:TICK_VALS[i][0], dtick:MINOR_STEP[i], showgrid:false};}

const traces = [];
const layout = {width:W, height:H, margin:{l:0,r:0,t:0,b:0}, paper_bgcolor:'#fff', plot_bgcolor:'rgba(0,0,0,0)',
  showlegend:true,
  legend:{x:909/W, xanchor:'left', y:1-5/H, yanchor:'top', font:{family:'DejaVu Serif', size:20, color:'#333333'},
          bgcolor:'rgba(0,0,0,0)', tracegroupgap:0, traceorder:'grouped'},
  annotations:[]};
const legendShown = {bf:false, li:false, bay:false};

let k = 0;
for(let r=0;r<8;r++){
  for(let c=0;c<=r;c++){
    k++;
    const xn = k===1?'x':'x'+k, yn = k===1?'y':'y'+k;
    const xk = k===1?'xaxis':'xaxis'+k, yk = k===1?'yaxis':'yaxis'+k;
    const diag = (r===c);
    layout[xk] = Object.assign(axisBase(), {domain:xdom(c), range:X_RANGES[c], anchor:yn,
      tickmode:'array', tickvals:TICK_VALS[c], ticktext:TICK_TEXT[c], showticklabels:r===7, tickangle:-75,
      ticklabelstandoff:-3, mirror: diag?true:'allticks', minor:minorFor(c)});
    if(diag){
      layout[yk] = Object.assign(axisBase(), {domain:ydom(r), range:[0,1.1], anchor:xn, tickmode:'linear', tick0:0, dtick:0.5,
        showticklabels:false, mirror:true, minor:{ticks:'inside', ticklen:4, tickwidth:1, tickcolor:'#000', dtick:0.1}});
      const M = MARGINALS[c], CI = INTERVALS[c];
      KEYS.forEach(m=>{
        const b = band(M[m], CI[m][0], CI[m][1]);
        traces.push({type:'scatter', mode:'lines', x:b.map(p=>p[0]), y:b.map(p=>p[1]), xaxis:xn, yaxis:yn,
          fill:'tozeroy', fillcolor:STYLE[m].fill, line:{width:0, shape:'spline', smoothing:0.8}, hoverinfo:'skip', showlegend:false, legendgroup:m});
      });
      KEYS.forEach(m=>{
        traces.push({type:'scatter', mode:'lines', x:M[m].map(p=>p[0]), y:M[m].map(p=>p[1]), xaxis:xn, yaxis:yn,
          line:{color:STYLE[m].color, width:STYLE[m].dwidth, shape:'spline', smoothing:0.8}, hoverinfo:'skip', showlegend:false, legendgroup:m});
      });
    } else {
      layout[yk] = Object.assign(axisBase(), {domain:ydom(r), range:RANGES[r], anchor:xn,
        tickmode:'array', tickvals:TICK_VALS[r], ticktext:TICK_TEXT[r], showticklabels:c===0,
        ticklabelstandoff:12, mirror:'allticks', minor:minorFor(r)});
      const P = CONTOURS[r+','+c];
      KEYS.forEach((m,mi)=>{
        ['outer','inner'].forEach(lv=>{
          const cl = closed(P[m][lv]);
          const show = !legendShown[m]; legendShown[m] = true;
          traces.push({type:'scatter', mode:'lines', x:cl.x, y:cl.y, xaxis:xn, yaxis:yn, name:METHODS[mi],
            line:{color:STYLE[m].color, width:STYLE[m].width, dash:STYLE[m].dash, shape:'spline', smoothing:1},
            hoverinfo:'skip', showlegend:show, legendgroup:m});
        });
      });
    }
  }
}
// axis titles
for(let i=0;i<8;i++){
  layout.annotations.push({xref:'paper', yref:'paper', x:(GX0+GW*(i+0.5))/W, y:1-1009/H, xanchor:'center', yanchor:'middle',
    text:PARAM_TITLES[i], showarrow:false, font:{family:'DejaVu Sans', size:32, color:'#000'}});
  if(i>0){
    layout.annotations.push({xref:'paper', yref:'paper', x:28/W, y:1-(GY0+GH*(i+0.5))/H, xanchor:'center', yanchor:'middle',
      text:PARAM_TITLES[i], textangle:-90, showarrow:false, font:{family:'DejaVu Sans', size:32, color:'#000'}});
  }
}
Plotly.newPlot('chart', traces, layout, {displayModeBar:false, staticPlot:true});
</script></body></html>
